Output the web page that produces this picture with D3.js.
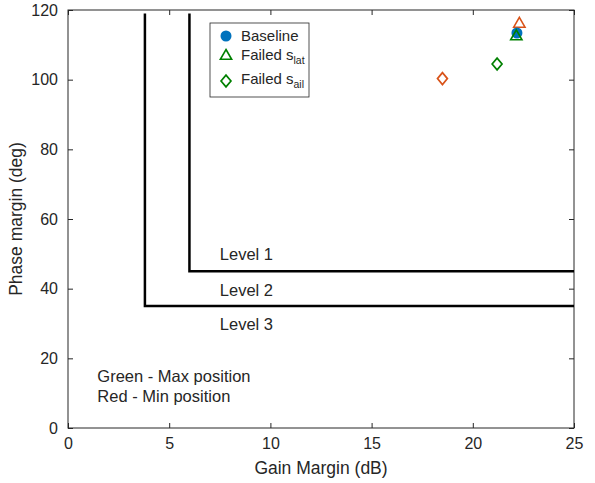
<!DOCTYPE html>
<meta charset="utf-8">
<html>
<head>
<script src="https://d3js.org/d3.v7.min.js"></script>
<style>
  body { margin: 0; background: #fff; }
  text { font-family: "Liberation Sans", Arial, sans-serif; fill: #262626; }
</style>
</head>
<body>
<script>
// data
var xTicks = [0, 5, 10, 15, 20, 25],
    yTicks = [0, 20, 40, 60, 80, 100, 120];

var level1X = [6, 6, 25], level1Y = [119, 45, 45];
var level2X = [3.8, 3.8, 25], level2Y = [119, 35, 35];

var baselineX = [22.18], baselineY = [113.4];
var latX = [22.15, 22.3], latY = [112.4, 116], latColor = ["#008000", "#D95319"];
var ailX = [21.2, 18.5], ailY = [104.5, 100.3], ailColor = ["#008000", "#D95319"];

var levelLabels = ["Level 1", "Level 2", "Level 3"],
    levelLabelY = [49.8, 39.6, 29.8];
var noteLabels = ["Green - Max position", "Red - Min position"],
    noteY = [15, 9];

var margin = {top: 10, right: 21, bottom: 55, left: 68},
    W = 595, H = 483,
    width = W - margin.left - margin.right,
    height = H - margin.top - margin.bottom;

var svg = d3.select("body").append("svg")
    .attr("width", W).attr("height", H)
  .append("g")
    .attr("transform", "translate(" + margin.left + "," + margin.top + ")");

var x = d3.scaleLinear().domain([0, 25]).range([0, width]),
    y = d3.scaleLinear().domain([0, 120]).range([height, 0]);

// box with inward ticks on all sides
function styleAxis(g) {
    g.select(".domain").remove();
    g.selectAll(".tick line").attr("stroke", "#262626");
    g.selectAll(".tick text").attr("font-size", "16px").attr("fill", "#262626");
}
svg.append("g").attr("transform", "translate(0," + height + ")")
    .call(d3.axisBottom(x).tickValues(xTicks).tickSizeInner(-5).tickPadding(10))
    .call(styleAxis);
svg.append("g")
    .call(d3.axisTop(x).tickValues(xTicks).tickSizeInner(-5).tickFormat(""))
    .call(styleAxis);
svg.append("g")
    .call(d3.axisLeft(y).tickValues(yTicks).tickSizeInner(-5).tickPadding(10))
    .call(styleAxis);
svg.append("g").attr("transform", "translate(" + width + ",0)")
    .call(d3.axisRight(y).tickValues(yTicks).tickSizeInner(-5).tickFormat(""))
    .call(styleAxis);
svg.selectAll(".tick text").attr("font-family", "'Liberation Sans', Arial, sans-serif");

svg.append("rect")
    .attr("width", width).attr("height", height)
    .attr("fill", "none").attr("stroke", "#262626").attr("stroke-width", 1);

// level lines
var line = d3.line().x(function(d){ return x(d[0]); }).y(function(d){ return y(d[1]); });
[[level1X, level1Y], [level2X, level2Y]].forEach(function(l){
    svg.append("path")
        .attr("d", line(d3.zip(l[0], l[1])))
        .attr("fill", "none").attr("stroke", "#000").attr("stroke-width", 2.5);
});

levelLabels.forEach(function(t, i){
    svg.append("text").attr("x", x(7.5)).attr("y", y(levelLabelY[i]))
        .attr("dy", "0.35em").attr("font-size", "16.5px").attr("fill", "#000").text(t);
});
noteLabels.forEach(function(t, i){
    svg.append("text").attr("x", x(1.45)).attr("y", y(noteY[i]))
        .attr("dy", "0.35em").attr("font-size", "16.5px").attr("fill", "#000").text(t);
});

var tri = d3.symbol().type(d3.symbolTriangle).size(55),
    dia = d3.symbol().type(d3.symbolDiamond).size(50);

function triangle(g, cx, cy, c) {
    g.append("path").attr("d", tri)
        .attr("transform", "translate(" + cx + "," + cy + ")")
        .attr("fill", "none").attr("stroke", c).attr("stroke-width", 1.6);
}
function diamond(g, cx, cy, c) {
    g.append("path").attr("d", dia)
        .attr("transform", "translate(" + cx + "," + cy + ") scale(1.3,0.9)")
        .attr("fill", "none").attr("stroke", c).attr("stroke-width", 1.5);
}

// markers
triangle(svg, x(latX[1]), y(latY[1]), latColor[1]);
ailX.forEach(function(v, i){ diamond(svg, x(v), y(ailY[i]), ailColor[i]); });
baselineX.forEach(function(v, i){
    svg.append("circle").attr("cx", x(v)).attr("cy", y(baselineY[i])).attr("r", 5.5)
        .attr("fill", "#0072BD");
});
triangle(svg, x(latX[0]), y(latY[0]), latColor[0]);

// legend
var lg = svg.append("g").attr("transform", "translate(" + (210 - margin.left) + "," + (23 - margin.top) + ")");
lg.append("rect").attr("width", 99).attr("height", 74)
    .attr("fill", "#fff").attr("stroke", "#262626").attr("stroke-width", 0.8);
lg.append("circle").attr("cx", 16).attr("cy", 13).attr("r", 5.5).attr("fill", "#0072BD");
lg.append("text").attr("x", 31).attr("y", 13).attr("dy", "0.35em").attr("font-size", "15px").attr("fill", "#000").text("Baseline");
triangle(lg, 16, 33, "#008000");
var t1 = lg.append("text").attr("x", 31).attr("y", 32).attr("dy", "0.35em").attr("font-size", "15px").attr("fill", "#000");
t1.append("tspan").text("Failed s");
t1.append("tspan").attr("font-size", "10.5px").attr("dy", "4").text("lat");
diamond(lg, 16, 58, "#008000");
var t2 = lg.append("text").attr("x", 31).attr("y", 56).attr("dy", "0.35em").attr("font-size", "15px").attr("fill", "#000");
t2.append("tspan").text("Failed s");
t2.append("tspan").attr("font-size", "10.5px").attr("dy", "4").text("ail");

// axis titles
svg.append("text").attr("x", width / 2).attr("y", height + 46)
    .attr("text-anchor", "middle").attr("font-size", "17.5px").text("Gain Margin (dB)");
svg.append("text").attr("transform", "translate(-46," + height / 2 + ") rotate(-90)")
    .attr("text-anchor", "middle").attr("font-size", "17.5px").text("Phase margin (deg)");
</script>
</body>
</html>
